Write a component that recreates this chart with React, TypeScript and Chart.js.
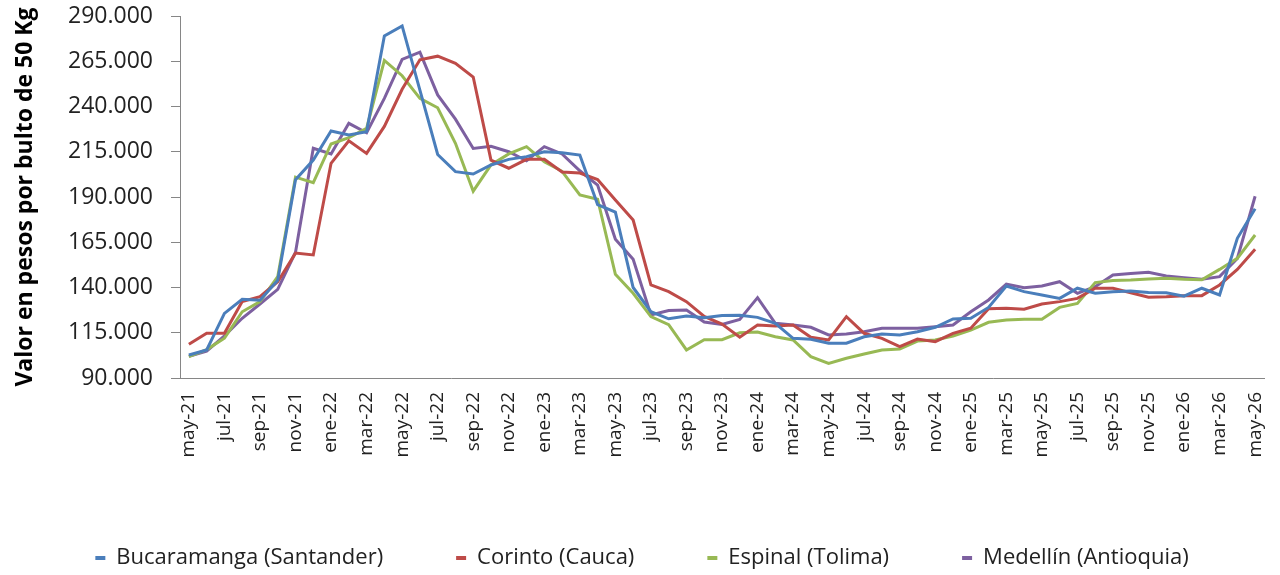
import React, { useEffect, useRef } from "react";
import { Chart, registerables } from "chart.js";

Chart.register(...registerables);

const months = ["may", "jun", "jul", "ago", "sep", "oct", "nov", "dic", "ene", "feb", "mar", "abr"];
const years = [21, 21, 21, 21, 21, 21, 21, 21, 22, 22, 22, 22];
const categories: string[] = [];
for (let i = 0; i < 61; i++) {
  categories.push(months[i % 12] + "-" + (years[i % 12] + Math.floor(i / 12)));
}

const bucaramanga = [
  102.7, 105.5, 125.7, 133.5, 133, 144, 199.5, 210.4, 226.5, 224.3, 226.1, 279, 284.5, 249, 213.5,
  204, 202.7, 207.7, 210.8, 212.3, 215, 214.5, 213.2, 185.8, 181.6, 140, 126.6, 122.7, 124.3, 123.3,
  124.5, 124.6, 123.5, 120.2, 111.9, 111.4, 109.2, 109.2, 112.8, 114.3, 113.8, 115.6, 118, 122.6, 123,
  129, 140.8, 137.7, 135.9, 134, 139.6, 136.8, 137.7, 138, 137.3, 137.1, 135.2, 139.6, 135.9, 167.2, 183.5,
];
const corinto = [
  108.6, 114.7, 114.7, 132.2, 134.9, 143.2, 159, 158, 208.6, 221.1, 214.1, 229, 249.5, 265.8, 267.8,
  263.9, 256.3, 210.4, 205.9, 210.8, 210.8, 203.8, 203.2, 199.6, 188.3, 177.3, 141.4, 137.7, 132.2, 124,
  119.8, 112.5, 119.3, 118.7, 119.3, 112.5, 111, 123.9, 114.7, 111.9, 107.3, 111.5, 110.1, 114.7, 117.5,
  128.3, 128.5, 128, 130.9, 132.2, 134, 139.6, 139.6, 137.1, 134.6, 134.9, 135.5, 135.5, 141.4, 150, 161.1,
];
const espinal = [
  101.8, 105.7, 112, 126.6, 132.2, 146, 201, 197.9, 219.3, 222.8, 227.9, 265.5, 257, 244.5, 239.3,
  219.7, 193.2, 207.7, 213.8, 217.8, 209.5, 204.2, 191.1, 188.8, 147.3, 136.8, 123.9, 119.5, 105.5, 111.2,
  111.2, 115, 115.4, 112.8, 111, 101.8, 98.1, 100.9, 103.3, 105.5, 106, 110.4, 111, 113.2, 116.5,
  120.8, 122, 122.4, 122.4, 129, 131.2, 142.7, 143.8, 144.1, 144.7, 145.1, 144.5, 144.3, 150, 156.1, 169,
];
const medellin = [
  102, 104.9, 113.2, 123, 130.9, 139, 159.5, 216.9, 213.8, 230.7, 225.5, 244.5, 266, 270, 246.4,
  233, 216.8, 218, 215, 210, 217.8, 213.8, 204.5, 196.6, 166.7, 155.6, 124.8, 127.3, 127.6, 120.9,
  119.6, 122.4, 134.4, 120.2, 119.3, 118, 113.8, 114.3, 115.6, 117.5, 117.5, 117.5, 118.3, 119.3, 126.6,
  133.1, 141.9, 139.9, 140.8, 143.2, 136.8, 140.4, 146.9, 147.8, 148.4, 146.4, 145.4, 144.5, 146, 156.1, 190.4,
];

const seriesNames = ["Bucaramanga (Santander)", "Corinto (Cauca)", "Espinal (Tolima)", "Medellín (Antioquia)"];
const seriesColors = ["#4A7EBB", "#BE4B48", "#98B954", "#7D60A0"];
const seriesValues = [bucaramanga, corinto, espinal, medellin];

const yMin = 90000;
const yMax = 290000;
const yStep = 25000;
const yTitle = "Valor en pesos por bulto de 50 Kg";

function fmt(v: number): string {
  const s = Math.round(v).toString();
  return s.replace(/\B(?=(\d{3})+(?!\d))/g, ".");
}

export default function App() {
  const ref = useRef<HTMLCanvasElement | null>(null);
  useEffect(() => {
    if (!ref.current) return;
    const font = "'Open Sans', 'Noto Sans', sans-serif";
    const chart = new Chart(ref.current, {
      type: "line",
      data: {
        labels: categories,
        datasets: seriesNames.map((name, k) => ({
          label: name,
          data: seriesValues[k].map((v) => v * 1000),
          borderColor: seriesColors[k],
          backgroundColor: seriesColors[k],
          borderWidth: 3,
          pointRadius: 0,
          pointHoverRadius: 0,
          tension: 0,
          fill: false,
        })),
      },
      options: {
        animation: false,
        responsive: true,
        maintainAspectRatio: false,
        layout: { padding: { left: 20, right: 16, top: 16, bottom: -4 } },
        plugins: {
          tooltip: { enabled: false },
          legend: {
            position: "bottom",
            labels: {
              font: { family: font, size: 22 },
              color: "#222",
              boxWidth: 10,
              boxHeight: 4,
              padding: 73,
              generateLabels: (c: any) =>
                Chart.defaults.plugins.legend.labels.generateLabels(c).map((l: any) => ({
                  ...l,
                  lineWidth: 0,
                  fillStyle: l.strokeStyle,
                })),
            },
          },
        },
        scales: {
          x: {
            offset: true,
            grid: { drawOnChartArea: false, drawTicks: false },
            border: { color: "#868686", width: 1 },
            ticks: {
              autoSkip: false,
              maxRotation: 90,
              minRotation: 90,
              padding: 14,
              color: "#222",
              font: { family: font, size: 19 },
              callback: (_v: any, i: number) => (i % 2 === 0 ? categories[i] : ""),
            },
            afterFit: (s: any) => {
              s.height = 96;
              s.paddingLeft = 0;
              s.paddingRight = 0;
            },
          },
          y: {
            min: yMin,
            max: yMax,
            grid: { drawOnChartArea: false, drawTicks: true, tickLength: 9, color: "#868686" },
            border: { color: "#868686", width: 1 },
            ticks: {
              stepSize: yStep,
              padding: 18,
              color: "#222",
              font: { family: font, size: 23 },
              callback: (v: any) => fmt(Number(v)),
            },
            title: {
              display: true,
              text: yTitle,
              color: "#000",
              font: { family: font, size: 23, weight: "bold" },
              padding: { top: -8, bottom: 0 },
            },
            afterFit: (s: any) => {
              s.width = 160;
              s.paddingTop = 0;
              s.paddingBottom = 0;
            },
          },
        },
      },
    });
    return () => chart.destroy();
  }, []);
  return (
    <div style={{ position: "fixed", left: 0, top: 0, width: 1280, height: 575, background: "#fff" }}>
      <canvas ref={ref} />
    </div>
  );
}
